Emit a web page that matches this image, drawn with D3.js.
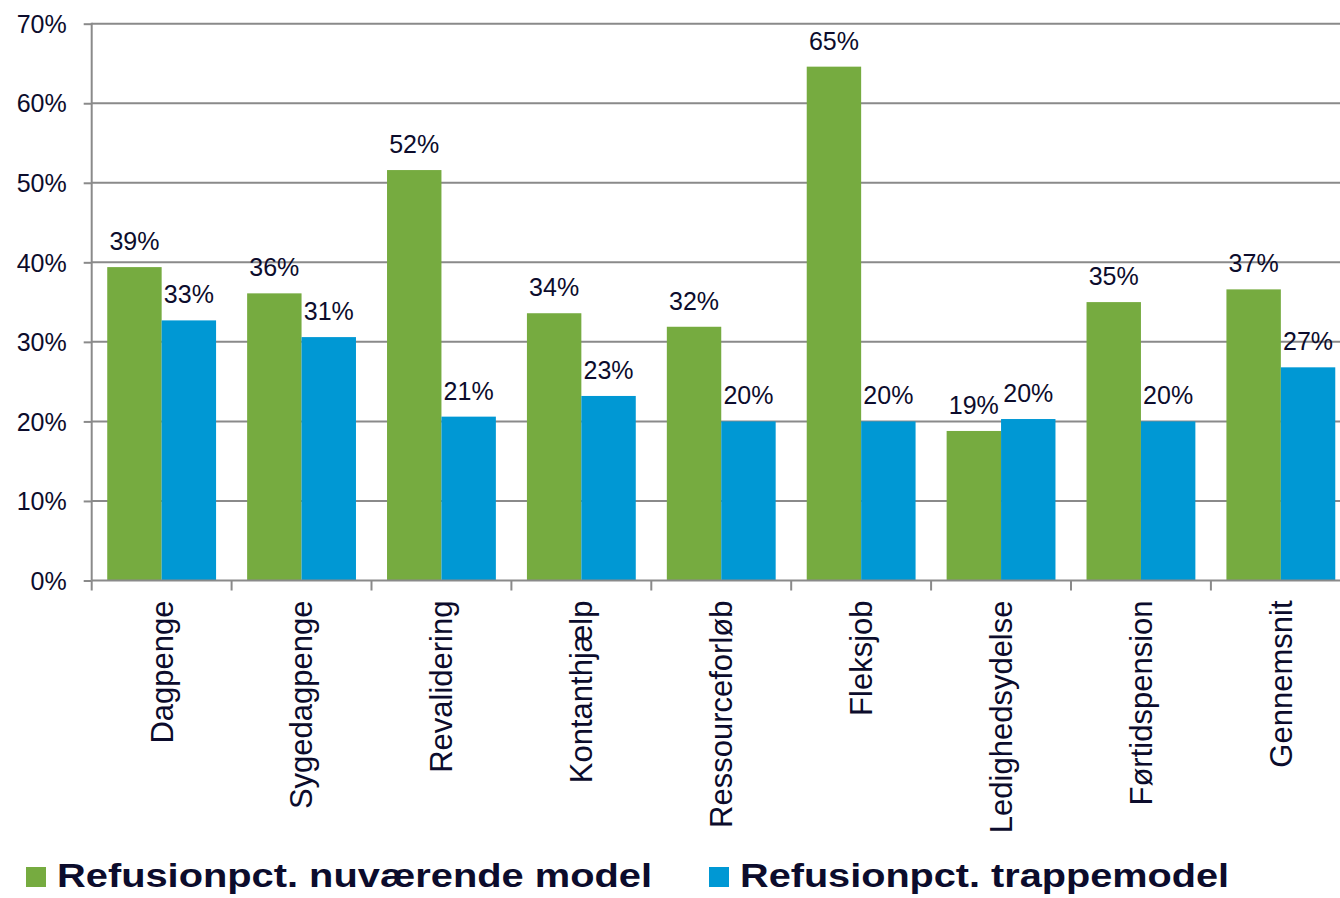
<!DOCTYPE html>
<meta charset="utf-8">
<style>
body { margin: 0; background: #fff; }
svg text { font-family: "Liberation Sans", Arial, sans-serif; fill: #0c0c2c; }
.grid line, .axis-line { stroke: #8a8a8a; stroke-width: 2px; }
.value { font-size: 25px; text-anchor: middle; }
.cat { font-size: 31px; text-anchor: end; }
.legend text { font-size: 34px; font-weight: bold; }
</style>
<svg width="1340" height="898"></svg>
<script src="https://d3js.org/d3.v7.min.js"></script>
<script>

var categories = ["Dagpenge", "Sygedagpenge", "Revalidering", "Kontanthjælp", "Ressourceforløb",
                  "Fleksjob", "Ledighedsydelse", "Førtidspension", "Gennemsnit"];
var seriesNames = ["Refusionpct. nuværende model", "Refusionpct. trappemodel"];
var nuvaerende = [0.394, 0.361, 0.516, 0.336, 0.319, 0.646, 0.188, 0.350, 0.366];
var trappe     = [0.327, 0.306, 0.206, 0.232, 0.200, 0.200, 0.203, 0.200, 0.268];
var yTicks = [0, 0.1, 0.2, 0.3, 0.4, 0.5, 0.6, 0.7];
var colors = ["#76ab40", "#0098d4"];

var svg = d3.select("svg"),
    width = +svg.attr("width"),
    height = +svg.attr("height");

var plotLeft = 91.7, plotTop = 23.7, plotBottom = 580.5;
var step = 139.9;

var x0 = d3.scaleBand()
    .domain(categories)
    .range([plotLeft, plotLeft + step * categories.length])
    .paddingInner(0.222)
    .paddingOuter(0.111);

var x1 = d3.scaleBand()
    .domain(seriesNames)
    .range([0, x0.bandwidth()]);

var y = d3.scaleLinear()
    .domain([0, 0.7])
    .range([plotBottom, plotTop]);

var color = d3.scaleOrdinal().domain(seriesNames).range(colors);
var fmt = d3.format(".0%");

// gridlines
svg.append("g")
    .attr("class", "grid")
  .selectAll("line")
  .data(yTicks.slice(1))
  .enter().append("line")
    .attr("x1", plotLeft)
    .attr("x2", width)
    .attr("y1", function(d) { return y(d); })
    .attr("y2", function(d) { return y(d); });

// y axis
var yAxis = svg.append("g")
    .attr("transform", "translate(" + plotLeft + ",0)")
    .call(d3.axisLeft(y).tickValues(yTicks).tickFormat(fmt).tickSize(8).tickPadding(17));
yAxis.select(".domain").remove();
yAxis.selectAll(".tick line").attr("stroke", "#8a8a8a").attr("stroke-width", 2);
yAxis.selectAll(".tick text")
    .style("font-size", "25px")
    .style("font-family", "'Liberation Sans', Arial, sans-serif")
    .attr("fill", "#0c0c2c")
    .attr("dy", "0.35em");

svg.append("line")
    .attr("class", "axis-line")
    .attr("x1", plotLeft).attr("x2", plotLeft)
    .attr("y1", plotTop - 1).attr("y2", plotBottom);

// bars
var rows = categories.map(function(c, i) {
  return { cat: c, values: [
    { key: seriesNames[0], value: nuvaerende[i] },
    { key: seriesNames[1], value: trappe[i] }
  ]};
});

var group = svg.append("g")
  .selectAll("g")
  .data(rows)
  .enter().append("g")
    .attr("transform", function(d) { return "translate(" + x0(d.cat) + ",0)"; });

group.selectAll("rect")
  .data(function(d) { return d.values; })
  .enter().append("rect")
    .attr("x", function(d) { return x1(d.key); })
    .attr("width", x1.bandwidth())
    .attr("y", function(d) { return y(d.value); })
    .attr("height", function(d) { return plotBottom - y(d.value); })
    .attr("fill", function(d) { return color(d.key); });

group.selectAll("text")
  .data(function(d) { return d.values; })
  .enter().append("text")
    .attr("class", "value")
    .attr("x", function(d) { return x1(d.key) + x1.bandwidth() / 2; })
    .attr("y", function(d) { return y(d.value) - 17; })
    .text(function(d) { return fmt(d.value); });

// x axis line + ticks at band boundaries
svg.append("line")
    .attr("class", "axis-line")
    .attr("x1", plotLeft).attr("x2", width)
    .attr("y1", plotBottom).attr("y2", plotBottom);

var edges = categories.map(function(c) { return x0(c) - (x0.step() - x0.bandwidth()) / 2; });
svg.append("g")
  .selectAll("line")
  .data(edges)
  .enter().append("line")
    .attr("x1", function(d) { return d; })
    .attr("x2", function(d) { return d; })
    .attr("y1", plotBottom)
    .attr("y2", plotBottom + 10)
    .attr("stroke", "#8a8a8a")
    .attr("stroke-width", 2);

svg.append("g")
  .selectAll("text")
  .data(categories)
  .enter().append("text")
    .attr("class", "cat")
    .attr("transform", function(d) {
      return "translate(" + (x0(d) + x0.bandwidth() / 2) + "," + (plotBottom + 20) + ") rotate(-90)";
    })
    .attr("dy", "0.35em")
    .text(function(d) { return d; });

// legend
var legendX = [26, 709];
var legendW = [595, 489];
var legend = svg.append("g")
    .attr("class", "legend")
  .selectAll("g")
  .data(seriesNames)
  .enter().append("g")
    .attr("transform", function(d, i) { return "translate(" + legendX[i] + ",867)"; });

legend.append("rect")
    .attr("width", 20)
    .attr("height", 20)
    .attr("fill", function(d) { return color(d); });

legend.append("text")
    .attr("x", 31)
    .attr("y", 20)
    .attr("textLength", function(d, i) { return legendW[i]; })
    .attr("lengthAdjust", "spacingAndGlyphs")
    .text(function(d) { return d; });

</script>
